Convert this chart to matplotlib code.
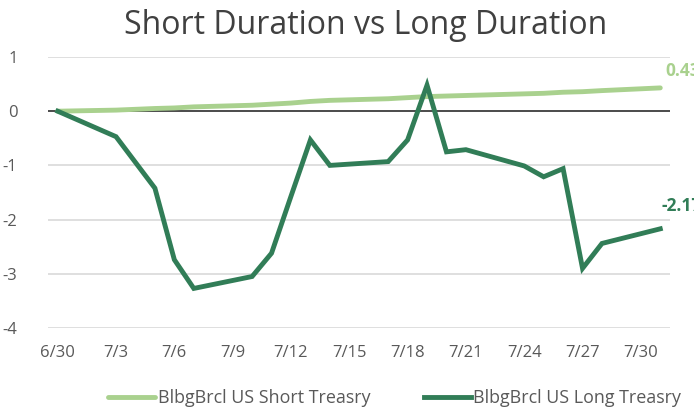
import numpy as np
import pandas as pd
import matplotlib
matplotlib.use('Agg')
import matplotlib.pyplot as plt
import matplotlib.dates as mdates

dates = ['2023-06-30', '2023-07-03', '2023-07-05', '2023-07-06', '2023-07-07',
         '2023-07-10', '2023-07-11', '2023-07-12', '2023-07-13', '2023-07-14',
         '2023-07-17', '2023-07-18', '2023-07-19', '2023-07-20', '2023-07-21',
         '2023-07-24', '2023-07-25', '2023-07-26', '2023-07-27', '2023-07-28',
         '2023-07-31']
short_tsy = [0.00, 0.02, 0.05, 0.06, 0.08, 0.11, 0.13, 0.15, 0.18, 0.20,
             0.23, 0.25, 0.27, 0.28, 0.29, 0.32, 0.33, 0.35, 0.36, 0.38, 0.43]
long_tsy = [0.00, -0.47, -1.42, -2.74, -3.27, -3.05, -2.62, -1.57, -0.53, -1.00,
            -0.93, -0.53, 0.48, -0.75, -0.71, -1.01, -1.21, -1.06, -2.90, -2.44, -2.17]
short_name = 'BlbgBrcl US Short Treasry'
long_name = 'BlbgBrcl US Long Treasry'
tick_dates = pd.date_range('2023-06-30', '2023-07-30', freq='3D')

x = pd.to_datetime(dates)
light = '#A9D18E'
dark = '#317D57'

plt.rcParams['font.family'] = ['Open Sans', 'DejaVu Sans']
fig = plt.figure(figsize=(6.94, 4.13), dpi=100)
ax = fig.add_axes([48/694, 1-328/413, 622/694, 271/413])

ax.plot(x, short_tsy, color=light, lw=3.5, solid_capstyle='round', label=short_name, zorder=3)
ax.plot(x, long_tsy, color=dark, lw=3.5, solid_joinstyle='miter', label=long_name, zorder=4)
ax.axhline(0, color='#404040', lw=1.3, zorder=2)

ax.set_ylim(-4, 1)
ax.set_yticks([1, 0, -1, -2, -3, -4])
ax.set_yticklabels(['1', '0', '-1', '-2', '-3', '-4'])
ax.set_xlim(x[0] - pd.Timedelta(hours=12), x[-1] + pd.Timedelta(hours=12))
ax.set_xticks(tick_dates)
ax.set_xticklabels([f'{d.month}/{d.day}' for d in tick_dates])
ax.grid(axis='y', color='#D9D9D9', lw=1.2)
ax.set_axisbelow(True)
for s in ax.spines.values():
    s.set_visible(False)
ax.tick_params(length=0, colors='#595959', labelsize=12)
ax.tick_params(axis='y', pad=22)
ax.tick_params(axis='x', pad=12)

ax.text(x[-1] + pd.Timedelta(hours=6), short_tsy[-1] + 0.22, f'{short_tsy[-1]:.2f}',
        color=light, fontsize=12.5, fontweight='bold', clip_on=False)
ax.text(x[-1] + pd.Timedelta(hours=2), long_tsy[-1] + 0.32, f'{long_tsy[-1]:.2f}',
        color=dark, fontsize=12.5, fontweight='bold', clip_on=False)

fig.text(0.527, 0.978, 'Short Duration vs Long Duration', ha='center', va='top',
         fontsize=23, color='#404040')
fig.legend(loc='center', bbox_to_anchor=(0.569, 15/413), ncol=2, frameon=False,
           fontsize=12.9, labelcolor='#595959', handlelength=2.6, handletextpad=0.15,
           columnspacing=3.0)

fig.savefig('out.png', dpi=100)
